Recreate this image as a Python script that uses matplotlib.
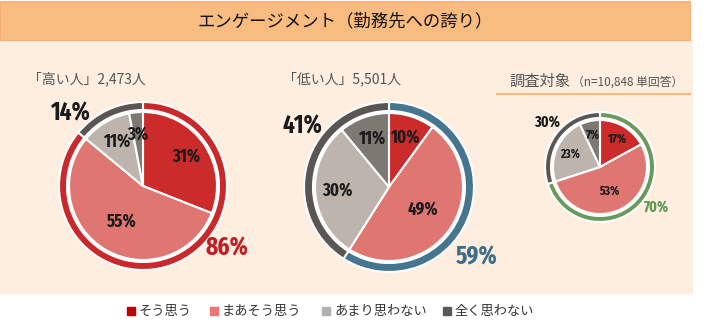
import matplotlib
matplotlib.use("Agg")
import matplotlib.pyplot as plt
from matplotlib import font_manager
from matplotlib.font_manager import FontProperties
from matplotlib.patches import Rectangle
import numpy as np

plt.rcParams['font.family'] = ['Noto Sans CJK JP', 'DejaVu Sans']

W, H = 704, 331

# answer categories and their shares for each group
categories = ["そう思う", "まあそう思う", "あまり思わない", "全く思わない"]
high_vals = [31, 55, 11, 3]
low_vals = [10, 49, 30, 11]
all_vals = [17, 53, 23, 7]

# outer ring: positive (そう思う + まあそう思う) vs negative
high_ring = [86, 14]
low_ring = [59, 41]
all_ring = [70, 30]

titles = ["「高い人」2,473人", "「低い人」5,501人"]

inner_colors = ["#CB2B2B", "#E07672", "#BDB5AD", "#7E7872"]
legend_colors = ["#C00000", "#EB7770", "#B0B0B0", "#595959"]
ring_dark = "#5A5653"


def narrow_bold():
    # pick the narrowest bold face available for the percentage numbers
    best = None
    for f in font_manager.fontManager.ttflist:
        name = (f.name + " " + str(f.fname) + " " + str(f.stretch)).lower()
        name = name.replace("-", "").replace(" ", "").replace("_", "")
        if "italic" in f.style or "oblique" in f.style or "italic" in name:
            continue
        if "extracondensed" in name:
            width = 0
        elif "narrow" in name or ("condensed" in name and "semicondensed" not in name):
            width = 1
        elif "semicondensed" in name:
            width = 2
        else:
            continue
        w = f.weight if isinstance(f.weight, int) else 700
        score = width * 1000 + abs(w - 700)
        if best is None or score < best[0]:
            best = (score, f.fname)
    if best:
        return FontProperties(fname=best[1])
    return FontProperties(family="DejaVu Sans", weight="bold", stretch="condensed")


num_fp = narrow_bold()

fig = plt.figure(figsize=(W / 100, H / 100), dpi=100)
bg = fig.add_axes([0, 0, 1, 1])
bg.set_xlim(0, W)
bg.set_ylim(H, 0)
bg.axis("off")

# cream panel and title bar
bg.add_patch(Rectangle((0, 40), 692, 253, color="#FDEEE0", zorder=0))
bg.add_patch(Rectangle((0, 1), 690, 39, facecolor="#F9BC80", edgecolor="#F5B070", lw=0.8, zorder=1))
bg.text(345, 21, "エンゲージメント（勤務先への誇り）", ha="center", va="center",
        fontsize=12.5, color="#111111")

bg.text(28, 79, titles[0], ha="left", va="center", fontsize=10, color="#555555")
bg.text(283, 79, titles[1], ha="left", va="center", fontsize=10, color="#555555")
bg.text(509, 81, "調査対象", ha="left", va="center", fontsize=11, color="#555555")
bg.text(572, 82, "（n=10,848 単回答）", ha="left", va="center", fontsize=8.5, color="#555555")
bg.plot([497, 690], [94, 94], color="#F8B97C", lw=1.5)


def donut(cx, cy, R, r_in, vals, ring, ring_color, ring_txt_color,
          inner_fs, ring_fs, pos_off, neg_off):
    ax = fig.add_axes([(cx - R) / W, 1 - (cy + R) / H, 2 * R / W, 2 * R / H])
    ax.pie(ring, radius=1.0, colors=[ring_color, ring_dark], startangle=90,
           counterclock=False, wedgeprops=dict(width=(R - r_in - 2) / R,
                                               edgecolor="white", linewidth=1.5))
    k = r_in / R
    ax.pie(vals, radius=k, colors=inner_colors, startangle=90, counterclock=False,
           wedgeprops=dict(edgecolor="white", linewidth=1.5))
    ax.set_xlim(-1, 1)
    ax.set_ylim(-1, 1)
    ax.set_aspect("equal")
    ax.axis("off")

    # slice labels, placed at the middle angle of each slice
    cum = np.cumsum([0] + vals) / 100.0
    for i, v in enumerate(vals):
        mid = (cum[i] + cum[i + 1]) / 2 * 2 * np.pi
        d = k * (0.55 if v > 40 else 0.7)
        ax.text(d * np.sin(mid), d * np.cos(mid), f"{v}%", ha="center", va="center",
                fontproperties=num_fp, fontsize=inner_fs, color="#1A1A1A")

    fig.text(cx + pos_off[0], cy - pos_off[1], f"{ring[0]}%", ha="center", va="center",
             fontproperties=num_fp, fontsize=ring_fs, color=ring_txt_color,
             transform=bg.transData)
    fig.text(cx + neg_off[0], cy - neg_off[1], f"{ring[1]}%", ha="center", va="center",
             fontproperties=num_fp, fontsize=ring_fs, color="#1A1A1A",
             transform=bg.transData)


donut(143, 186, 84, 74, high_vals, high_ring, "#C9292B", "#BE1E24", 13, 18, (84, -62), (-73, 73))
donut(389, 187, 85, 74, low_vals, low_ring, "#46758F", "#3E6E8A", 13, 18, (88, -70), (-87, 61))
donut(600, 167, 55, 47, all_vals, all_ring, "#6A9A5B", "#5E9850", 9, 11, (56, -40), (-53, 45))

# legend along the bottom
legend_x = [127, 210, 322, 443]
for x, c, lab in zip(legend_x, legend_colors, categories):
    bg.add_patch(Rectangle((x, 307), 8, 8, color=c))
    bg.text(x + 12, 311, lab, ha="left", va="center", fontsize=9.5, color="#333333")

fig.savefig("out.png", dpi=100)
